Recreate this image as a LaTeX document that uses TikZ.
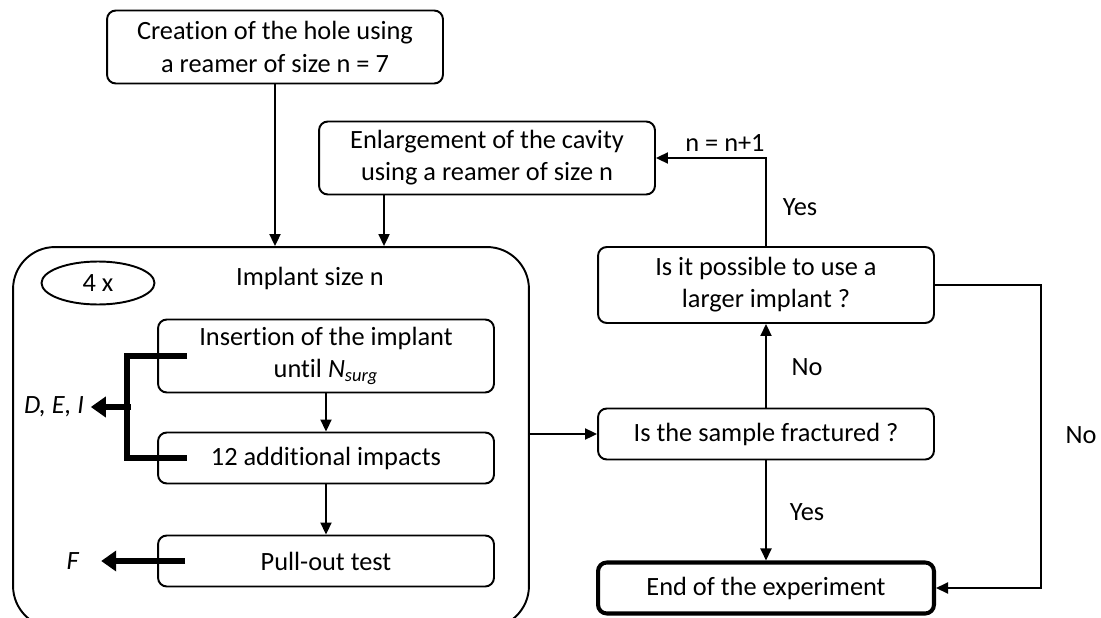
\documentclass[tikz,border=0pt]{standalone}
\usepackage{fontspec}
\setmainfont{Carlito}[Ligatures={NoCommon,NoContextual},Contextuals=NoAlternate]
\usetikzlibrary{arrows.meta}
\usetikzlibrary{calc}
\usetikzlibrary{positioning}
\usetikzlibrary{shapes.geometric}
\newcommand{\tsep}{t\kern0pt i}

\begin{document}
\begin{tikzpicture}[x=0.02cm,y=-0.02cm,line width=1.1pt,
		font=\fontsize{15pt}{18.3pt}\selectfont,
		box/.style={draw,rounded corners=5pt,align=center,minimum width=6.72cm,inner sep=0pt},
		arr/.style={-{Triangle[length=0.24cm,width=0.22cm]}},
		heavy/.style={line width=3.8pt},
		heavyarr/.style={heavy,-{Triangle[length=0.3cm,width=0.4cm]}}]
		\useasboundingbox (0,0) rectangle (1101,618);

		\node [box,minimum height=1.46cm] (hole) at (275,47) {Crea\tsep on of the hole using\\a reamer of size n = 7};
		\node [box,minimum height=1.46cm] (enlarge) at (487,158) {Enlargement of the cavity\\using a reamer of size n};

		\node [draw,rounded corners=0.84cm,minimum width=10.32cm,minimum height=7.62cm] (implant) at (271,437.5) {};
		\node [draw,ellipse,minimum width=2.26cm,minimum height=0.86cm,inner sep=0pt] (times) at (98,283) {4 x};
		\node (size) at (310,278) {Implant size n};

		\node [box,minimum height=1.46cm] (insert) at (326,356) {Inser\tsep on of the implant\\un\tsep l \textit{N}\textsubscript{\textit{surg}}};
		\node [box,minimum height=1.02cm] (impacts) at (326,458) {12 addi\tsep onal impacts};
		\node [box,minimum height=1.02cm] (pullout) at (326,561) {Pull-out test};

		\node [box,minimum height=1.52cm] (larger) at (766,285) {Is it possible to use a\\larger implant ?};
		\node [box,minimum height=1.02cm] (fracture) at (766,434) {Is the sample fractured ?};
		\node [box,minimum height=1.02cm,line width=2.3pt] (finish) at (766,588) {End of the experiment};

		\node (dei) at (54,407) {\textit{D, E, I}};
		\node (force) at (73,561) {\textit{F}};

		\draw [arr] (hole.south) -- (hole.south |- implant.north);
		\draw [arr] ([xshift=-2.06cm]enlarge.south) -- ([xshift=-2.06cm]enlarge.south |- implant.north);
		\draw [arr] (insert.south) -- (impacts.north);
		\draw [arr] (impacts.south) -- (pullout.north);
		\draw [arr] (implant.east |- fracture.west) -- (fracture.west);
		\draw [arr] (fracture.north) -- (larger.south);
		\draw [arr] (fracture.south) -- (finish.north);
		\draw [arr] (larger.north) |- (enlarge.east);

		\coordinate (turn) at (1041,285);
		\draw [arr] (larger.east |- turn) -- (turn) |- (finish.east);

		\draw [heavy] ([xshift=0.6cm]insert.west) -- ([xshift=-0.6cm]insert.west) |- ([xshift=0.6cm]impacts.west);
		\coordinate (brk) at ($([xshift=-0.52cm]insert.west)!0.5!([xshift=-0.52cm]impacts.west)$);
		\draw [heavyarr] (brk) -- (dei.east);
		\draw [heavyarr] ([xshift=0.56cm]pullout.west) -- ([xshift=0.3cm]force.east);

		\node at (725,143) {n = n+1};
		\node at (800,207) {Yes};
		\node at (807,367) {No};
		\node at (807,512) {Yes};
		\node at (1081,435) {No};
	\end{tikzpicture}
\end{document}
